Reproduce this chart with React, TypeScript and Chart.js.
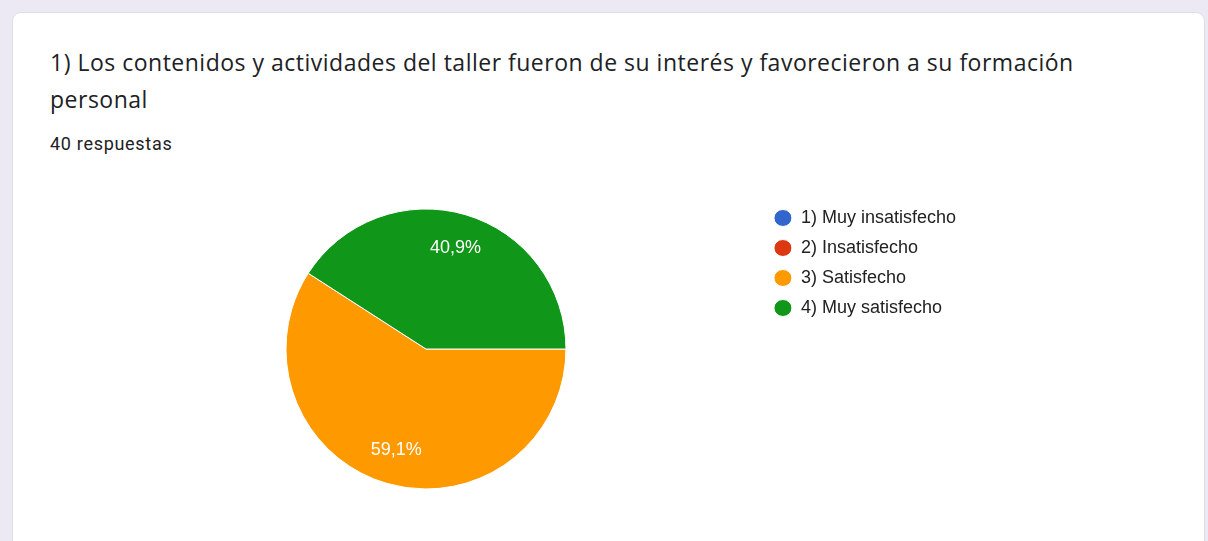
import React, { useEffect, useRef } from "react";
import { Chart, registerables } from "chart.js";

Chart.register(...registerables);

const categories = ["1) Muy insatisfecho", "2) Insatisfecho", "3) Satisfecho", "4) Muy satisfecho"];
const values = [0, 0, 59.1, 40.9];
const sliceLabels = ["", "", "59,1%", "40,9%"];
const colors = ["#3366cc", "#dc3912", "#ff9900", "#109618"];
const titleLines = ["1) Los contenidos y actividades del taller fueron de su interés y favorecieron a su formación", "personal"];
const responses = "40 respuestas";

const sliceLabelPlugin = {
  id: "sliceLabels",
  afterDatasetsDraw(chart: any) {
    const ctx = chart.ctx;
    const meta = chart.getDatasetMeta(0);
    ctx.save();
    ctx.fillStyle = "#ffffff";
    ctx.font = "18px 'Liberation Sans', Arial, sans-serif";
    ctx.textAlign = "center";
    ctx.textBaseline = "middle";
    meta.data.forEach((arc: any, i: number) => {
      const label = sliceLabels[i];
      if (!label) return;
      const p = arc.getProps(["x", "y", "startAngle", "endAngle", "outerRadius"], true);
      const mid = (p.startAngle + p.endAngle) / 2;
      const r = p.outerRadius * 0.75;
      ctx.fillText(label, p.x + Math.cos(mid) * r, p.y + Math.sin(mid) * r);
    });
    ctx.restore();
  },
};

export default function App() {
  const ref = useRef<HTMLCanvasElement | null>(null);
  useEffect(() => {
    if (!ref.current) return;
    const chart = new Chart(ref.current, {
      type: "pie",
      data: {
        labels: categories,
        datasets: [
          {
            data: values,
            backgroundColor: colors,
            borderColor: "#ffffff",
            borderWidth: 1,
            radius: 140,
          } as any,
        ],
      },
      options: {
        animation: false,
        responsive: false,
        rotation: 90,
        layout: { padding: 0 },
        plugins: {
          tooltip: { enabled: false },
          legend: {
            position: "right",
            align: "start",
            labels: {
              usePointStyle: true,
              pointStyle: "circle",
              boxWidth: 12,
              boxHeight: 12,
              pointStyleWidth: 18,
              padding: 12,
              color: "#222222",
              font: { family: "'Liberation Sans', Arial, sans-serif", size: 18 },
            },
          },
        },
      },
      plugins: [sliceLabelPlugin],
    });
    return () => chart.destroy();
  }, []);

  return (
    <div style={{ position: "fixed", inset: 0, background: "#ece9f5", overflow: "hidden" }}>
      <div
        style={{
          position: "absolute",
          left: 12,
          top: 12,
          width: 1193,
          height: 540,
          background: "#ffffff",
          borderRadius: 9,
          border: "1px solid #e0dfe6",
          boxSizing: "border-box",
        }}
      />
      <div
        style={{
          position: "absolute",
          left: 50,
          top: 44,
          whiteSpace: "nowrap",
          fontFamily: "'Open Sans', Roboto, sans-serif",
          fontSize: 23,
          letterSpacing: "0.5px",
          lineHeight: "37px",
          color: "#202124",
        }}
      >
        {titleLines[0]}
        <br />
        {titleLines[1]}
      </div>
      <div
        style={{
          position: "absolute",
          left: 50,
          top: 133,
          whiteSpace: "nowrap",
          fontFamily: "Roboto, sans-serif",
          fontSize: 18,
          letterSpacing: "0.7px",
          lineHeight: "22px",
          color: "#202124",
        }}
      >
        {responses}
      </div>
      <canvas
        ref={ref}
        width={876}
        height={304}
        style={{ position: "absolute", left: 90, top: 197, width: 876, height: 304 }}
      />
    </div>
  );
}
